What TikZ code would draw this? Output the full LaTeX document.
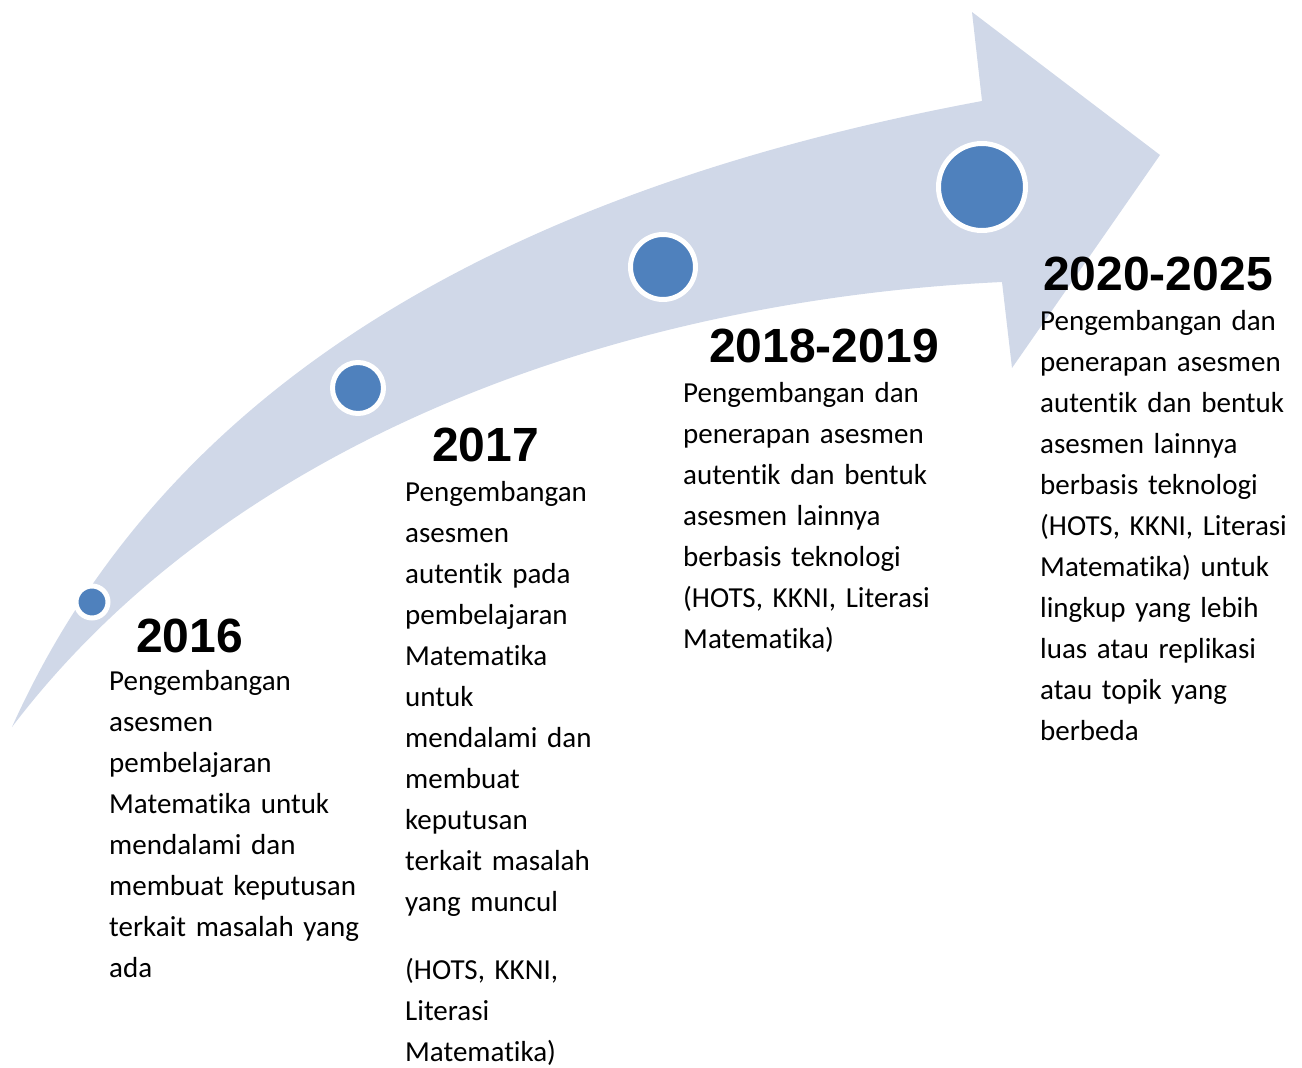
\documentclass[tikz,border=0pt]{standalone}
\usepackage{fontspec}
\setmainfont{Carlito}[Ligatures=NoCommon]
\newfontfamily\yearfont{Liberation Sans}
\definecolor{bandblue}{HTML}{D0D8E8}
\definecolor{dotblue}{HTML}{4F81BD}

\begin{document}
\begin{tikzpicture}[x=1pt, y=-1pt,
	dot/.style = {shape=circle, fill=dotblue, draw=white, line width=5pt, inner sep=0pt},
	year/.style = {anchor=base west, inner sep=0pt, font=\yearfont\bfseries\fontsize{48}{48}\selectfont},
	desc/.style = {anchor=base west, inner sep=0pt, text width=260pt, align=left,
		font=\fontsize{29}{41}\selectfont}]
\useasboundingbox (0,0) rectangle (1302,1068);

\fill[bandblue] (12,727) .. controls (150,420) and (450,200) .. (982,101)
	-- (972,12) -- (1160,155) -- (1012,368) -- (1002,282)
	.. controls (620,300) and (230,440) .. cycle;

\node[dot, minimum size=32pt] (d16) at (92,602) {};
\node[dot, minimum size=51pt] (d17) at (358,388) {};
\node[dot, minimum size=65pt] (d18) at (663,267) {};
\node[dot, minimum size=87pt] (d20) at (982,187) {};

\node[year] (y16) at (136,652) {2016};
\node[desc] (t16) at (109,690) {Pengembangan\\ asesmen\\ pembelajaran\\ Matematika untuk\\
	mendalami dan\\ membuat keputusan\\ terkait masalah yang\\ ada};

\node[year] (y17) at (432,461) {2017};
\node[desc] (t17) at (405,501) {Pengembangan\\ asesmen\\ autentik pada\\ pembelajaran\\
	Matematika\\ untuk\\ mendalami dan\\ membuat\\ keputusan\\ terkait masalah\\ yang muncul\\[27pt]
	(HOTS, KKNI,\\ Literasi\\ Matematika)};

\node[year] (y18) at (709,362) {2018-2019};
\node[desc] (t18) at (683,402) {Pengembangan dan\\ penerapan asesmen\\ autentik dan bentuk\\
	asesmen lainnya\\ berbasis teknologi\\ (HOTS, KKNI, Literasi\\ Matematika)};

\node[year] (y20) at (1043,290) {2020-2025};
\node[desc] (t20) at (1040,330) {Pengembangan dan\\ penerapan asesmen\\ autentik dan bentuk\\
	asesmen lainnya\\ berbasis teknologi\\ (HOTS, KKNI, Literasi\\ Matematika) untuk\\
	lingkup yang lebih\\ luas atau replikasi\\ atau topik yang\\ berbeda};
\end{tikzpicture}
\end{document}
